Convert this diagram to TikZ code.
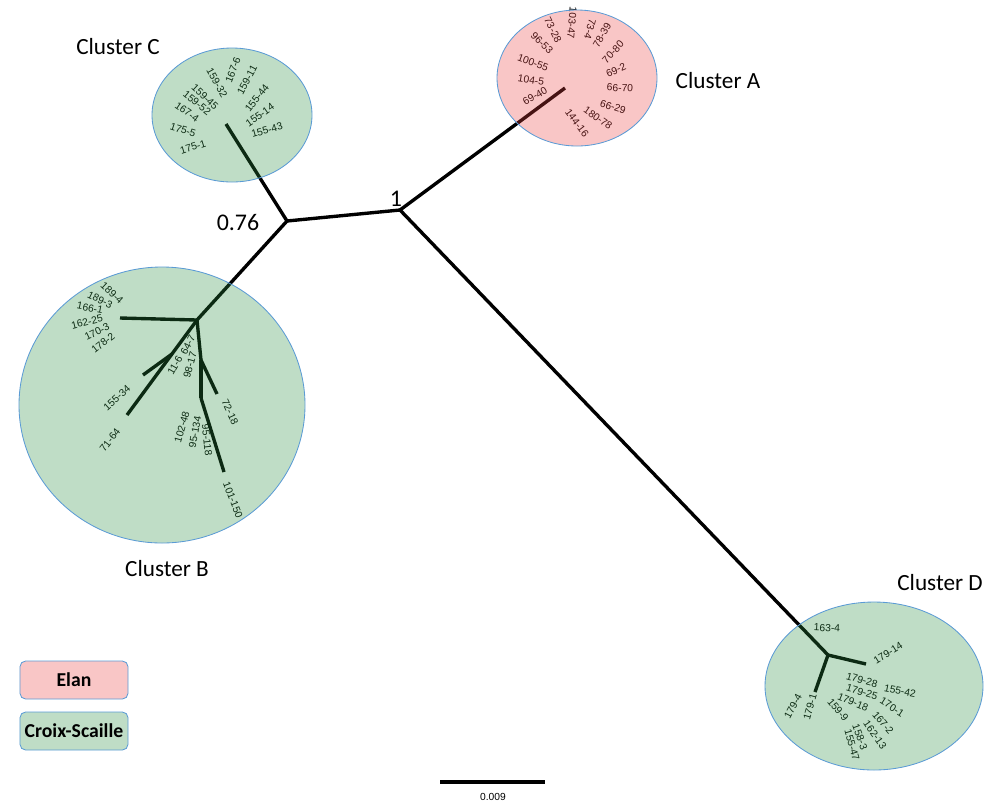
\documentclass[tikz,border=0pt]{standalone}
\usepackage{fontspec}
\setmainfont{Carlito}
\newfontfamily\leaffont{Liberation Sans}
\definecolor{elanfill}{RGB}{235,65,65}
\definecolor{croixfill}{RGB}{42,142,65}
\definecolor{rimblue}{RGB}{91,155,213}
\definecolor{elanbox}{RGB}{249,198,198}
\definecolor{croixbox}{RGB}{191,221,198}

\begin{document}
\begin{tikzpicture}[x=0.025cm, y=-0.025cm,
  branch/.style={line width=2.4pt},
  leaf/.style={font=\leaffont\fontsize{7.3}{8}\selectfont, inner sep=0pt},
  clus/.style={draw=rimblue, line width=0.6pt, fill opacity=0.3},
  title/.style={font=\fontsize{16.5}{18}\selectfont, inner sep=0pt},
  legend/.style={draw=rimblue, line width=0.6pt, rounded corners=4pt, minimum width=2.7cm, minimum height=0.95cm, font=\bfseries\fontsize{14}{16}\selectfont}]
\useasboundingbox (0,0) rectangle (998,805);

% tree points
\coordinate (root) at (400,210);
\coordinate (bc) at (287,221);
\coordinate (aend) at (565,88);
\coordinate (dnode) at (828,655);
\coordinate (cend) at (226,124);
\coordinate (bnode) at (197,320);
\coordinate (b1) at (120,318);
\coordinate (b2) at (172,354);
\coordinate (b2a) at (143,375);
\coordinate (b2b) at (127,415);
\coordinate (b3) at (201,360);
\coordinate (b3a) at (217,394);
\coordinate (b4) at (201,398);
\coordinate (b4a) at (224,472);
\coordinate (d1) at (866,664);
\coordinate (d2) at (815,692);

\draw[branch] (root) -- (aend);
\draw[branch] (root) -- (dnode);
\draw[branch] (root) -- (bc);
\draw[branch] (bc) -- (cend);
\draw[branch] (bc) -- (bnode);
\draw[branch] (bnode) -- (b1);
\draw[branch] (bnode) -- (b2b);
\draw[branch] (b2) -- (b2a);
\draw[branch] (bnode) -- (b3);
\draw[branch] (b3) -- (b4);
\draw[branch] (b3) -- (b3a);
\draw[branch] (b4) -- (b4a);
\draw[branch] (dnode) -- (d1);
\draw[branch] (dnode) -- (d2);

% cluster A
\node[leaf, rotate=-95] (la1) at (572,23) {103-47};
\node[leaf, rotate=-105] (la2) at (590,29) {73-4};
\node[leaf, rotate=-63] (la3) at (553,30) {73-28};
\node[leaf, rotate=-45] (la4) at (542,43) {96-53};
\node[leaf, rotate=-20] (la5) at (533,63) {100-55};
\node[leaf, rotate=-9] (la6) at (531,80) {104-5};
\node[leaf, rotate=30] (la7) at (535,96) {69-40};
\node[leaf, rotate=60] (la8) at (602,35) {78-39};
\node[leaf, rotate=47] (la9) at (613,52) {70-80};
\node[leaf, rotate=24] (la10) at (616,70) {69-2};
\node[leaf, rotate=-3] (la11) at (620,88) {66-70};
\node[leaf, rotate=-18] (la12) at (613,107) {66-29};
\node[leaf, rotate=-35] (la13) at (598,118) {180-78};
\node[leaf, rotate=-53] (la14) at (577,123) {144-16};

% cluster C
\node[leaf, rotate=69] (lc1) at (233,70) {167-6};
\node[leaf, rotate=62] (lc2) at (247,80) {159-11};
\node[leaf, rotate=-61] (lc3) at (217,83) {159-32};
\node[leaf, rotate=-43] (lc4) at (205,97) {159-45};
\node[leaf, rotate=-39] (lc5) at (197,103) {159-52};
\node[leaf, rotate=-35] (lc6) at (187,112) {167-4};
\node[leaf, rotate=52] (lc7) at (257,98) {155-44};
\node[leaf, rotate=35] (lc8) at (260,115) {155-14};
\node[leaf, rotate=16] (lc9) at (267,130) {155-43};
\node[leaf, rotate=-18] (lc10) at (183,130) {175-5};
\node[leaf, rotate=17] (lc11) at (193,147) {175-1};

% cluster B
\node[leaf, rotate=-43] (lb1) at (112,293) {189-4};
\node[leaf, rotate=-26] (lb2) at (100,300) {189-3};
\node[leaf, rotate=-11] (lb3) at (90,308) {166-1};
\node[leaf, rotate=14] (lb4) at (87,322) {162-25};
\node[leaf, rotate=26] (lb5) at (97,332) {170-3};
\node[leaf, rotate=38] (lb6) at (103,343) {178-2};
\node[leaf, rotate=63] (lb7) at (188,345) {64-7};
\node[leaf, rotate=60] (lb8) at (175,365) {11-6};
\node[leaf, rotate=74] (lb9) at (190,365) {98-17};
\node[leaf, rotate=42] (lb10) at (117,398) {155-34};
\node[leaf, rotate=52] (lb11) at (110,440) {71-64};
\node[leaf, rotate=-65] (lb12) at (230,412) {72-18};
\node[leaf, rotate=74] (lb13) at (182,427) {102-48};
\node[leaf, rotate=80] (lb14) at (195,432) {95-134};
\node[leaf, rotate=-84] (lb15) at (207,440) {95-118};
\node[leaf, rotate=-69] (lb16) at (233,500) {101-150};

% cluster D
\node[leaf, rotate=-3] (ld1) at (827,628) {163-4};
\node[leaf, rotate=32] (ld2) at (888,653) {179-14};
\node[leaf, rotate=-16] (ld3) at (862,680) {179-28};
\node[leaf, rotate=-17] (ld4) at (862,692) {179-25};
\node[leaf, rotate=-22] (ld5) at (853,702) {179-18};
\node[leaf, rotate=-50] (ld6) at (838,710) {159-9};
\node[leaf, rotate=-11] (ld7) at (900,691) {155-42};
\node[leaf, rotate=-33] (ld8) at (892,707) {170-1};
\node[leaf, rotate=-50] (ld9) at (883,723) {167-2};
\node[leaf, rotate=-55] (ld10) at (875,735) {162-13};
\node[leaf, rotate=-70] (ld11) at (860,737) {158-3};
\node[leaf, rotate=-74] (ld12) at (852,745) {155-47};
\node[leaf, rotate=62] (ld13) at (793,706) {179-4};
\node[leaf, rotate=74] (ld14) at (810,707) {179-1};

% cluster shading
\draw[clus, fill=elanfill] (577,78) ellipse [x radius=80, y radius=68];
\draw[clus, fill=croixfill] (232,115) ellipse [x radius=80, y radius=67];
\draw[clus, fill=croixfill] (162,405) ellipse [x radius=143, y radius=138];
\draw[clus, fill=croixfill] (874,686) ellipse [x radius=109, y radius=84];

% titles
\node[title] (tA) at (718,81) {Cluster A};
\node[title] (tB) at (167,569) {Cluster B};
\node[title] (tC) at (118,47) {Cluster C};
\node[title] (tD) at (940,583) {Cluster D};
\node[title, font=\fontsize{17}{18}\selectfont] (sup1) at (396,199) {1};
\node[title, font=\fontsize{17}{18}\selectfont] (sup2) at (238,223) {0.76};

% legend
\node[legend, fill=elanbox] (elan) at (74,680) {Elan};
\node[legend, fill=croixbox] (croix) at (74,731) {Croix-Scaille};

% scale bar
\coordinate (sbl) at (440,782);
\coordinate (sbr) at (545,782);
\draw[branch] (sbl) -- (sbr);
\node[leaf] (sblab) at (493,797) {0.009};
\end{tikzpicture}
\end{document}
